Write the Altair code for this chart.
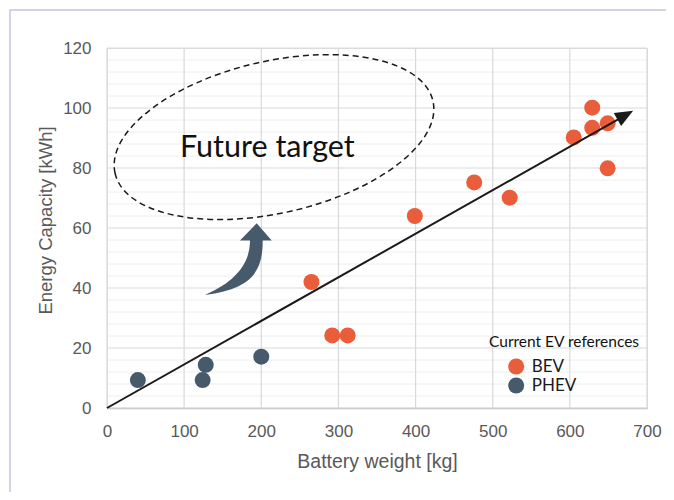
import altair as alt
import pandas as pd

# ---- data ----
bev_weight = [265, 292, 312, 399, 476, 522, 605, 629, 629, 649, 649]
bev_energy = [42.0, 24.2, 24.2, 64.0, 75.2, 70.1, 90.2, 100.1, 93.4, 94.9, 79.9]
phev_weight = [40, 124, 128, 200]
phev_energy = [9.3, 9.3, 14.4, 17.1]
categories = ["BEV", "PHEV"]
colors = ["#E95D3B", "#465A6B"]

x_major = [0, 100, 200, 300, 400, 500, 600, 700]
y_major = [0, 20, 40, 60, 80, 100, 120]
y_minor = [4, 8, 12, 16, 24, 28, 32, 36, 44, 48, 52, 56, 64, 68, 72, 76,
           84, 88, 92, 96, 104, 108, 112, 116]

trend_x = [0, 670]
trend_y = [0, 97.3]
trend_tip = {"weight": 682, "energy": 99.1}

target_ellipse = {"weight": 216.5, "energy": 90.3}
curved_arrow = {"weight": 169.8, "energy": 49.7}
target_label = {"weight": 94.6, "energy": 83.7, "text": "Future target"}
legend_title = {"weight": 495.2, "energy": 20.4, "text": "Current EV references"}

X_TITLE = "Battery weight [kg]"
Y_TITLE = "Energy Capacity [kWh]"

# ---- tables ----
points = pd.DataFrame({
    "weight": bev_weight + phev_weight,
    "energy": bev_energy + phev_energy,
    "type": ["BEV"] * len(bev_weight) + ["PHEV"] * len(phev_weight),
})
trend = pd.DataFrame({"weight": trend_x, "energy": trend_y})

GRID = "#d9d9d9"
MINOR = "#eeeeee"
AXIS_FONT = "Liberation Sans"
NOTE_FONT = "Lato"

xs = alt.Scale(domain=[0, 700], nice=False)
ys = alt.Scale(domain=[0, 120], nice=False)

x_axis = alt.Axis(values=x_major, grid=False, ticks=False, tickSize=0,
                  domain=True, domainColor="#bfbfbf", domainWidth=1.5,
                  labelFlush=False, labelOverlap=False,
                  labelFont=AXIS_FONT, labelFontSize=17, labelColor="#595959",
                  labelPadding=15, titleFont=AXIS_FONT, titleFontSize=19.5,
                  titleColor="#595959", titleFontWeight="normal",
                  titleBaseline="alphabetic", titleY=59)
y_axis = alt.Axis(values=y_major, grid=False, ticks=False, tickSize=0,
                  domain=False, labelFlush=False, labelOverlap=False,
                  labelFont=AXIS_FONT, labelFontSize=17,
                  labelColor="#595959", labelPadding=16,
                  titleFont=AXIS_FONT, titleFontSize=18.5,
                  titleColor="#595959", titleFontWeight="normal",
                  titleBaseline="middle", titleAlign="center",
                  titleX=-62, titleY=172)


def X(field):
    return alt.X(field, scale=xs, axis=x_axis, title=X_TITLE)


def Y(field):
    return alt.Y(field, scale=ys, axis=y_axis, title=Y_TITLE)


frame = alt.Chart(pd.DataFrame({"a": [0]})).mark_rect(
    fillOpacity=0, stroke="#cdc1dc", strokeWidth=1.5
).encode(x=alt.value(-97), x2=alt.value(700), y=alt.value(-38), y2=alt.value(600))

minor_h = alt.Chart(pd.DataFrame({"energy": y_minor})).mark_rule(
    color=MINOR, strokeWidth=1
).encode(y=Y("energy:Q"))

major_h = alt.Chart(pd.DataFrame({"energy": y_major})).mark_rule(
    color=GRID, strokeWidth=1.2
).encode(y=Y("energy:Q"))

major_v = alt.Chart(pd.DataFrame({"weight": x_major})).mark_rule(
    color=GRID, strokeWidth=1.2
).encode(x=X("weight:Q"))

ellipse = alt.Chart(pd.DataFrame([target_ellipse])).mark_point(
    shape="M -163 0 A 163 76 0 1 1 163 0 A 163 76 0 1 1 -163 0 Z",
    size=4, filled=False, stroke="#1a1a1a", strokeWidth=1.5,
    strokeDash=[6, 4], angle=347.2, opacity=1,
).encode(x=X("weight:Q"), y=Y("energy:Q"))

bend = alt.Chart(pd.DataFrame([curved_arrow])).mark_point(
    shape="M 18.7 -35.7 L 33.7 -18.3 L 24.7 -18.3 C 25 12 14 30 -33 36 "
          "C -10 26 12 10 12 -18.3 L 2 -18.3 Z",
    size=4, filled=True, color="#465A6B", strokeWidth=0, opacity=1,
).encode(x=X("weight:Q"), y=Y("energy:Q"))

dots = alt.Chart(points).mark_circle(size=256, opacity=1).encode(
    x=X("weight:Q"),
    y=Y("energy:Q"),
    color=alt.Color("type:N", scale=alt.Scale(domain=categories, range=colors),
                    title=None,
                    legend=alt.Legend(orient="none", legendX=400.7, legendY=310,
                                      symbolType="circle", symbolSize=256,
                                      symbolStrokeWidth=0, symbolOpacity=1,
                                      labelFont=NOTE_FONT, labelFontSize=17,
                                      labelColor="#1a1a1a", labelOffset=7,
                                      rowPadding=1, padding=0)),
)

trend_line = alt.Chart(trend).mark_line(color="#1a1a1a", strokeWidth=2).encode(
    x=X("weight:Q"), y=Y("energy:Q")
)

trend_head = alt.Chart(pd.DataFrame([trend_tip])).mark_point(
    shape="M 0 0 L -18 -7.5 L -18 7.5 Z", size=4, filled=True,
    color="#1a1a1a", strokeWidth=0, angle=330.5, opacity=1,
).encode(x=X("weight:Q"), y=Y("energy:Q"))

target_text = alt.Chart(pd.DataFrame([target_label])).mark_text(
    font=NOTE_FONT, fontSize=30.5, color="#111111", align="left", baseline="alphabetic"
).encode(x=X("weight:Q"), y=Y("energy:Q"), text="text:N")

legend_text = alt.Chart(pd.DataFrame([legend_title])).mark_text(
    font=NOTE_FONT, fontSize=15.5, color="#111111", align="left", baseline="alphabetic"
).encode(x=X("weight:Q"), y=Y("energy:Q"), text="text:N")

chart = alt.layer(
    frame, minor_h, major_h, major_v, ellipse, bend, dots, trend_line, trend_head,
    target_text, legend_text,
).properties(
    width=540, height=360,
    padding={"left": 99, "top": 40, "right": 19, "bottom": 84},
    autosize=alt.AutoSizeParams(type="none"),
).configure_view(strokeWidth=0).configure(background="white")

chart.save("out.html", embed_options={"renderer": "svg", "actions": False})
